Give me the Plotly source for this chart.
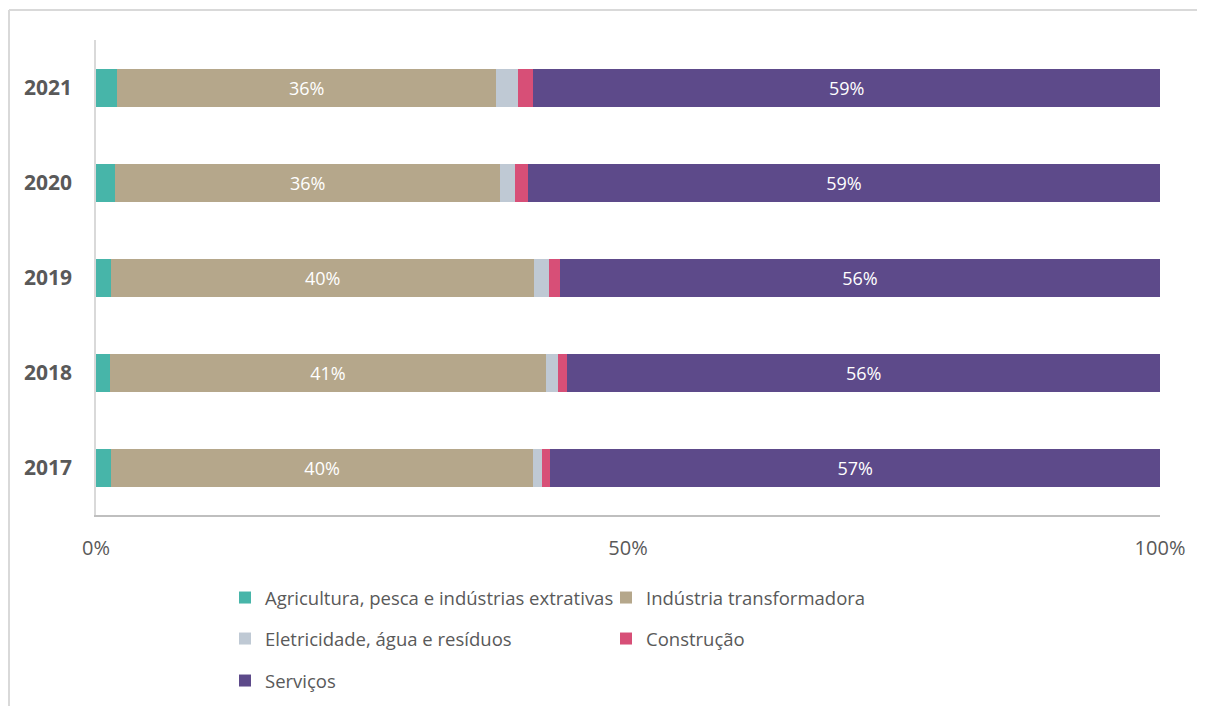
import plotly.graph_objects as go

years = ["2017", "2018", "2019", "2020", "2021"]
sectors = [
    "Agricultura, pesca e indústrias extrativas",
    "Indústria transformadora",
    "Eletricidade, água e resíduos",
    "Construção",
    "Serviços",
]
agricultura = [1.4, 1.3, 1.4, 1.8, 2.0]
industria = [39.7, 41.0, 39.8, 36.2, 35.6]
eletricidade = [0.8, 1.1, 1.4, 1.4, 2.1]
construcao = [0.8, 0.9, 1.0, 1.2, 1.4]
servicos = [57.3, 55.7, 56.4, 59.4, 58.9]
x_tick_vals = [0, 50, 100]
x_tick_text = ["0%", "50%", "100%"]

series = [agricultura, industria, eletricidade, construcao, servicos]
colors = ["#47B5A9", "#B5A78B", "#BFC9D4", "#D74F77", "#5D4A8A"]
labelled = [False, True, False, False, True]
legend_ids = ["legend", "legend", "legend2", "legend2", "legend3"]

FONT = "Open Sans"

fig = go.Figure()
for name, vals, col, lab, lg in zip(sectors, series, colors, labelled, legend_ids):
    fig.add_trace(go.Bar(
        y=years, x=vals, name=name, orientation="h",
        marker=dict(color=col, line=dict(width=0)),
        text=[f"{round(v)}%" for v in vals] if lab else None,
        textposition="inside" if lab else "none",
        insidetextanchor="middle",
        textfont=dict(color="white", size=18, family=FONT),
        legend=lg,
        hoverinfo="x+name",
    ))

# the page body adds an 8px offset, so the figure is sized to fit the window
W, H = 1197, 698
ml, mr, mt, mb = 88, 45, 32, 191
pw, ph = W - ml - mr, H - mt - mb


def px_x(p):
    return (p - ml) / pw


def px_y(p):
    return (H - mb - p) / ph


leg_common = dict(orientation="h", xanchor="left", yanchor="middle",
                  entrywidth=336, entrywidthmode="pixels",
                  font=dict(family=FONT, size=18.5, color="#595959"),
                  bgcolor="rgba(0,0,0,0)", traceorder="normal")

fig.update_layout(
    width=W, height=H,
    margin=dict(l=ml, r=mr, t=mt, b=mb, autoexpand=False),
    barmode="stack", bargap=0.6,
    plot_bgcolor="white", paper_bgcolor="white",
    font=dict(family=FONT, color="#595959"),
    legend=dict(x=px_x(217), y=px_y(590), **leg_common),
    legend2=dict(x=px_x(217), y=px_y(631), **leg_common),
    legend3=dict(x=px_x(217), y=px_y(673), **leg_common),
    xaxis=dict(range=[0, 100], tickvals=x_tick_vals, ticktext=x_tick_text,
               showgrid=False, zeroline=False, showline=True,
               linecolor="#BFBFBF", linewidth=1.5,
               tickfont=dict(family=FONT, size=20, color="#595959"),
               ticks="", ticklabelstandoff=14, automargin=False),
    yaxis=dict(type="category", categoryorder="array", categoryarray=years,
               showgrid=False, zeroline=False, showline=True,
               linecolor="#D9D9D9", linewidth=1.5,
               tickfont=dict(family=FONT, size=21, color="#595959", weight="bold"),
               ticks="", ticklabelstandoff=18, automargin=False),
    shapes=[
        dict(type="line", xref="paper", yref="paper",
             x0=px_x(1), x1=px_x(1205), y0=px_y(2), y1=px_y(2),
             line=dict(color="#D9D9D9", width=2)),
        dict(type="line", xref="paper", yref="paper",
             x0=px_x(1), x1=px_x(1), y0=px_y(2), y1=px_y(705),
             line=dict(color="#D9D9D9", width=2)),
    ],
)

fig.write_html("out.html")
